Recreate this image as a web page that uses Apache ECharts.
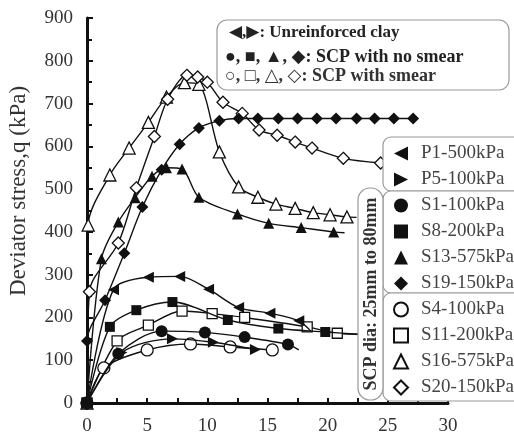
<!DOCTYPE html>
<html>
<head>
<meta charset="utf-8">
<title>Deviator stress</title>
<script src="https://cdn.jsdelivr.net/npm/echarts@6/dist/echarts.min.js"></script>
<style>
  html, body { margin: 0; padding: 0; background: #fff; }
  #main { width: 514px; height: 437px; }
</style>
</head>
<body>
<div id="main"></div>
<script>
// axial strain (%) , deviator stress q (kPa)
var p1  = [[0,0],[2.2,265],[5.1,294],[7.7,296],[10.1,266],[12.6,223],[15.2,210],[17.6,192]];
var p5  = [[0,0],[2.9,118],[7.1,150],[10.5,142],[14.0,125]];
var s1  = [[0,0],[2.6,115],[6.2,168],[9.8,165],[13.1,154],[16.7,137]];
var s8  = [[0,0],[1.9,178],[4.1,217],[7.1,236],[11.7,194],[15.9,174],[19.8,166]];
var s13 = [[0,0],[1.2,337],[2.6,423],[4.0,480],[5.4,530],[6.6,550],[7.9,547],[9.3,481],[12.5,442],[15.1,420],[17.8,410],[20.5,400]];
var s19 = [[0,0],[0,145],[1.5,240],[3.1,350],[4.6,458],[6.2,545],[7.7,605],[9.3,643],[11.0,660],[12.6,665],[14.2,665],[15.9,665],[17.5,665],[19.1,665],[20.7,665],[22.4,665],[23.9,665],[25.5,665],[27.1,665]];
var s4  = [[0,0],[1.4,82],[5.0,124],[8.6,138],[11.9,131],[15.4,124]];
var s11 = [[0,0],[2.5,145],[5.1,182],[7.9,215],[10.4,209],[13.1,200],[18.3,178],[20.8,163]];
var s16 = [[0,0],[0.1,416],[1.9,533],[3.5,596],[5.1,656],[6.6,715],[8.1,749],[9.3,745],[11.0,587],[12.6,505],[14.2,481],[15.7,465],[17.3,455],[18.8,445],[20.2,440],[21.6,435]];
var s20 = [[0,0],[0.2,260],[2.6,374],[4.1,503],[5.6,623],[6.7,710],[8.3,766],[9.2,762],[10.0,750],[11.3,703],[12.9,677],[14.3,638],[15.8,626],[17.3,610],[18.7,596],[21.3,572],[24.4,561]];

// line ends past the last marker
var tails = { 'P1-500kPa': [18.6,168], 'S1-100kPa': [17.6,124], 'S8-200kPa': [22.9,160],
              'S11-200kPa': [22.9,160], 'S13-575kPa': [21.4,398], 'S16-575kPa': [22.4,434] };

var names = ['P1-500kPa','P5-100kPa','S1-100kPa','S8-200kPa','S13-575kPa','S19-150kPa',
             'S4-100kPa','S11-200kPa','S16-575kPa','S20-150kPa'];
var values = [p1, p5, s1, s8, s13, s19, s4, s11, s16, s20];

var LEFT_TRI = 'path://M0,5L10,0L10,10Z';
var RIGHT_TRI = 'path://M10,5L0,0L0,10Z';
var symbols = [LEFT_TRI, RIGHT_TRI, 'circle', 'rect', 'triangle', 'diamond',
               'circle', 'rect', 'triangle', 'diamond'];
var hollow = [false, false, false, false, false, false, true, true, true, true];
var sizes = [11, 11, 12, 10, 11, 12, 12, 10, 12, 12];

var serif = '"Liberation Serif", "DejaVu Serif", serif';

var series = names.map(function (n, i) {
  var d = values[i].slice();
  if (tails[n]) d.push({ value: tails[n], symbol: 'none' });
  return {
    name: n,
    type: 'line',
    data: d,
    smooth: 0.3,
    symbol: symbols[i],
    symbolSize: sizes[i],
    showAllSymbol: true,
    z: hollow[i] ? 3 : 4,
    lineStyle: { color: '#111', width: 1.4 },
    itemStyle: hollow[i]
      ? { color: '#fff', borderColor: '#111', borderWidth: 1.3 }
      : { color: '#111', borderColor: '#111', borderWidth: 0 }
  };
});

var chart = echarts.init(document.getElementById('main'));
var option = {
  animation: false,
  backgroundColor: '#fff',
  grid: { left: 87, right: 66, top: 18, bottom: 34 },
  xAxis: {
    type: 'value', min: 0, max: 30, interval: 5,
    axisLine: { lineStyle: { color: '#111', width: 3 } },
    axisTick: { inside: true, length: 5, lineStyle: { color: '#111', width: 2 } },
    minorTick: { show: true, splitNumber: 2, length: 5, lineStyle: { color: '#111', width: 2 } },
    splitLine: { show: false },
    axisLabel: { color: '#333', fontSize: 19, fontFamily: serif, margin: 14 }
  },
  yAxis: {
    type: 'value', min: 0, max: 900, interval: 100,
    axisLine: { show: true, lineStyle: { color: '#111', width: 3 } },
    axisTick: { show: true, inside: true, length: 6, lineStyle: { color: '#111', width: 2 } },
    minorTick: { show: true, splitNumber: 2, length: 5, lineStyle: { color: '#111', width: 2 } },
    splitLine: { show: false },
    axisLabel: { color: '#333', fontSize: 19, fontFamily: serif, margin: 14 }
  },
  legend: {
    orient: 'vertical', left: 388, top: 139, z: 20,
    itemWidth: 14, itemHeight: 14, itemGap: 7,
    data: names.map(function (n, i) { return { name: n, icon: symbols[i] }; }),
    textStyle: { color: '#444', fontSize: 19, fontFamily: serif, padding: [0, 0, 0, 8] }
  },
  graphic: [
    // y axis title
    { type: 'text', z: 11, x: 19, y: 191, rotation: Math.PI / 2,
      style: { text: 'Deviator stress,q (kPa)', font: '23px ' + serif, fill: '#333',
               align: 'center', verticalAlign: 'middle' } },
    { type: 'rect', z: 10, shape: { x: 217, y: 20, width: 292, height: 70, r: 10 },
      style: { fill: '#fff', stroke: '#999', lineWidth: 1.2 } },
    { type: 'text', z: 11, x: 229, y: 33,
      style: { text: '◀,▶: Unreinforced clay', font: 'bold 17px ' + serif, fill: '#222', verticalAlign: 'middle' } },
    { type: 'text', z: 11, x: 225, y: 57,
      style: { text: '●, ■, ▲, ◆: SCP with no smear', font: 'bold 18px ' + serif, fill: '#222', verticalAlign: 'middle' } },
    { type: 'text', z: 11, x: 225, y: 76,
      style: { text: '○, □, △, ◇: SCP with smear', font: 'bold 18px ' + serif, fill: '#333', verticalAlign: 'middle' } },
    { type: 'rect', z: 10, shape: { x: 383, y: 137, width: 140, height: 54, r: 8 },
      style: { fill: '#fff', stroke: '#999', lineWidth: 1.2 } },
    { type: 'rect', z: 10, shape: { x: 383, y: 191, width: 140, height: 102, r: 8 },
      style: { fill: '#fff', stroke: '#999', lineWidth: 1.2 } },
    { type: 'rect', z: 10, shape: { x: 383, y: 293, width: 140, height: 108, r: 8 },
      style: { fill: '#fff', stroke: '#999', lineWidth: 1.2 } },
    { type: 'rect', z: 10, shape: { x: 358, y: 188, width: 25, height: 212, r: 12 },
      style: { fill: '#fff', stroke: '#999', lineWidth: 1.2 } },
    { type: 'text', z: 11, x: 371, y: 294, rotation: Math.PI / 2,
      style: { text: 'SCP dia: 25mm to 80mm', font: 'bold 18px ' + serif, fill: '#333',
               align: 'center', verticalAlign: 'middle' } }
  ],
  series: series
};
chart.setOption(option);
</script>
</body>
</html>
